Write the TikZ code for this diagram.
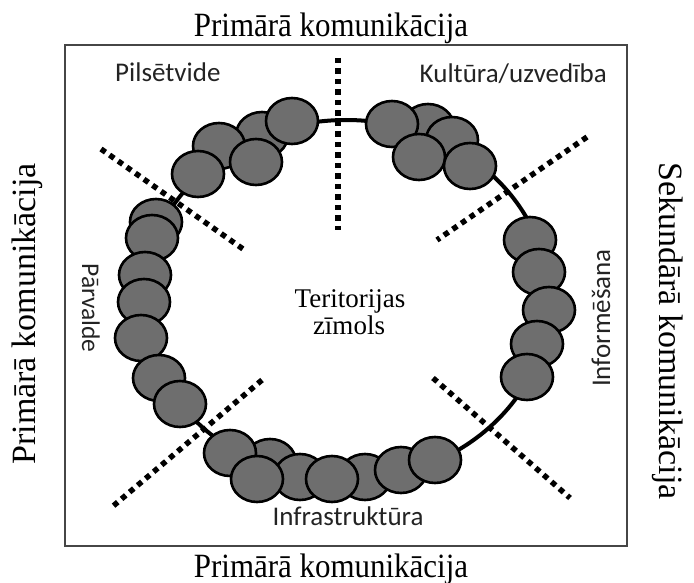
\documentclass[tikz,border=0pt]{standalone}
\usepackage{graphicx}
\usepackage{fontspec}
\setmainfont{Liberation Serif}
\newfontfamily\sansf{Carlito}
\usetikzlibrary{shapes.geometric}
\definecolor{blobgray}{RGB}{110,110,110}
\definecolor{framegray}{RGB}{70,70,70}
\definecolor{labelgray}{RGB}{35,35,35}
\begin{document}
\begin{tikzpicture}[x=1pt,y=-1pt,
  blob/.style={ellipse, draw=black, line width=2.6pt, fill=blobgray, minimum width=52pt, minimum height=46pt, inner sep=0pt},
  ringline/.style={line width=4pt, draw=black},
  dotline/.style={line width=5.5pt, dash pattern=on 5.5pt off 5pt, draw=black},
  framebox/.style={draw=framegray, line width=1.8pt, rectangle, minimum width=562pt, minimum height=501pt, inner sep=0pt},
  outerlabel/.style={font=\fontsize{34}{34}\selectfont, inner sep=0pt},
  innerlabel/.style={font=\sansf\fontsize{27}{27}\selectfont, text=labelgray, inner sep=0pt},
  midlabel/.style={font=\fontsize{27}{27}\selectfont, inner sep=0pt}]
\useasboundingbox (0,0) rectangle (694,583);
% frame
\node[framebox] (frame) at (346,295.5) {};
% ring
\draw[ringline] (346,300) ellipse [x radius=203, y radius=180];
% dotted separators
\coordinate (v1) at (338,58);   \coordinate (v2) at (338,230);
\coordinate (ul1) at (101,149); \coordinate (ul2) at (243,249);
\coordinate (ur1) at (587,137); \coordinate (ur2) at (437,240);
\coordinate (ll1) at (262,380); \coordinate (ll2) at (112,507);
\coordinate (lr1) at (433,378); \coordinate (lr2) at (570,498);
\draw[dotline] (v1) -- (v2);
\draw[dotline] (ul1) -- (ul2);
\draw[dotline] (ur1) -- (ur2);
\draw[dotline] (ll1) -- (ll2);
\draw[dotline] (lr1) -- (lr2);
% blobs: top-left arc
\node[blob] (b1) at (262,135) {};
\node[blob] (b2) at (219,146) {};
\node[blob] (b3) at (292,121) {};
\node[blob] (b4) at (256,162) {};
\node[blob] (b5) at (198,174) {};
% left side
\node[blob] (b6) at (156,222) {};
\node[blob] (b7) at (152,238) {};
\node[blob] (b8) at (145,275) {};
\node[blob] (b9) at (144,302) {};
\node[blob] (b10) at (141,338) {};
\node[blob] (b11) at (159,378) {};
\node[blob] (b12) at (180,404) {};
% bottom
\node[blob] (b13) at (270,462) {};
\node[blob] (b14) at (300,477) {};
\node[blob] (b15) at (365,477) {};
\node[blob] (b16) at (230,453) {};
\node[blob] (b17) at (257,479) {};
\node[blob] (b18) at (332,479) {};
\node[blob] (b19) at (401,470) {};
\node[blob] (b20) at (435,460) {};
% right side
\node[blob] (b21) at (530,240) {};
\node[blob] (b22) at (539,272) {};
\node[blob] (b23) at (549,310) {};
\node[blob] (b24) at (537,344) {};
\node[blob] (b25) at (527,377) {};
% top-right arc
\node[blob] (b26) at (428,127) {};
\node[blob] (b27) at (452,140) {};
\node[blob] (b28) at (392,124) {};
\node[blob] (b29) at (419,157) {};
\node[blob] (b30) at (470,166) {};
% outer labels
\node[outerlabel, anchor=base] (toplab) at (331,37) {\scalebox{0.91}[1]{Primārā komunikācija}};
\node[outerlabel, anchor=base] (botlab) at (331,577) {\scalebox{0.91}[1]{Primārā komunikācija}};
\node[outerlabel, anchor=base, rotate=90] (leftlab) at (35,314) {Primārā komunikācija};
\node[outerlabel, anchor=base, rotate=-90] (rightlab) at (659,331) {Sekundārā komunikācija};
% inner labels
\node[innerlabel, anchor=base west] (pils) at (115,82) {Pilsētvide};
\node[innerlabel, anchor=base east] (kult) at (607,83) {Kultūra/uzvedība};
\node[innerlabel, anchor=base, rotate=-90, font=\sansf\fontsize{25.5}{25.5}\selectfont] (parv) at (82,308) {Pārvalde};
\node[innerlabel, anchor=base, rotate=90] (info) at (610,318) {Informēšana};
\node[innerlabel, anchor=base] (infra) at (348,525) {Infrastruktūra};
% centre
\node[midlabel, anchor=base] (ter1) at (350,307) {Teritorijas};
\node[midlabel, anchor=base] (ter2) at (349,334) {zīmols};
\end{tikzpicture}
\end{document}
